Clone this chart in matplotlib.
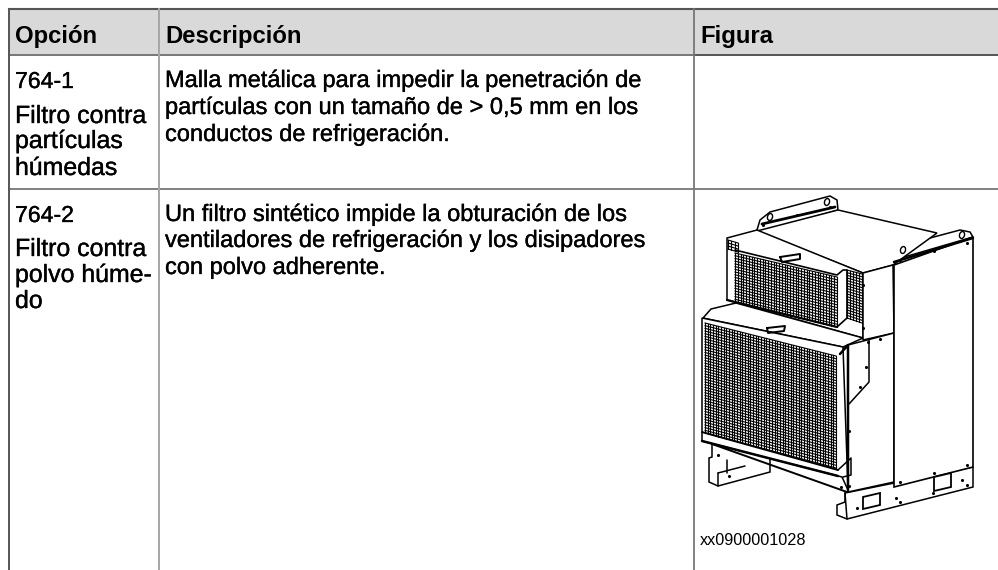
import numpy as np
import matplotlib
matplotlib.use("Agg")
import matplotlib.pyplot as plt
import matplotlib.patheffects as pe
from matplotlib.patches import Polygon, Rectangle, Ellipse

plt.rcParams['font.family'] = ['Liberation Sans', 'DejaVu Sans']

# Table text
headers = ["Opción", "Descripción", "Figura"]
option_1 = ["764-1", "Filtro contra", "partículas", "húmedas"]
option_2 = ["764-2", "Filtro contra", "polvo húme-", "do"]
desc_1 = ["Malla metálica para impedir la penetración de",
          "partículas con un tamaño de > 0,5 mm en los",
          "conductos de refrigeración."]
desc_2 = ["Un filtro sintético impide la obturación de los",
          "ventiladores de refrigeración y los disipadores",
          "con polvo adherente."]
figure_code = "xx0900001028"

# Rivets on the cabinet, in picture pixels
rivet_x = [718, 729, 860, 841, 849, 900, 934, 967, 857, 896, 900, 933, 962, 967, 849,
           900, 934, 967, 763, 797, 830, 866, 880, 868, 863, 863]
rivet_y = [455, 476, 387, 487, 486, 482, 473, 465, 508, 498, 502, 493, 480, 485, 431,
           260, 251, 243, 225, 215, 207, 367, 339, 342, 285, 328]

W, H = 998, 570
DARK = "#555555"
MID = "#777777"
LIGHT = "#a6a6a6"

fig = plt.figure(figsize=(W / 100, H / 100), dpi=100)
ax = fig.add_axes([0, 0, 1, 1])
ax.set_xlim(0, W)
ax.set_ylim(H, 0)
ax.axis("off")

# Table grid, open on the right and at the bottom
ax.add_patch(Rectangle((9, 9), W - 9, 45, fc="#d9d9d9", ec="none"))
ax.plot([9, W], [9, 9], color=DARK, lw=1.5)
ax.plot([9, 694], [54.5, 54.5], color=MID, lw=1.4)
ax.plot([694, W], [54.5, 54.5], color=DARK, lw=1.4)
ax.plot([9, W], [188.5, 188.5], color=MID, lw=1.3)
ax.plot([9.5, 9.5], [9, H], color=DARK, lw=1.4)
ax.plot([159, 159], [9, H], color=LIGHT, lw=1.4)
ax.plot([694.5, 694.5], [9, H], color=MID, lw=1.3)


def txt(x, y, s, size=17.0, stroke=0.25, **kw):
    t = ax.text(x, y, s, fontsize=size, va="baseline", ha="left", color="black", **kw)
    if stroke:
        t.set_path_effects([pe.withStroke(linewidth=stroke, foreground="black")])


for x, s in zip([15, 165, 700], headers):
    txt(x, 43, s, size=17.2, stroke=0, fontweight="bold")

for y, s, size in zip([88, 123, 148, 175], option_1, [16.6, 17.9, 17.9, 17.9]):
    txt(15, y, s, size=size)
for y, s, size in zip([222, 256, 282, 308], option_2, [16.6, 17.9, 17.9, 17.9]):
    txt(15, y, s, size=size)
for y, s in zip([87, 114, 141], desc_1):
    txt(165, y, s)
for y, s in zip([221, 247, 274], desc_2):
    txt(165, y, s)
txt(700, 545, figure_code, size=11.7, stroke=0)


# Illustration, in picture pixels
def shape(points, fc="white", lw=1.1, z=3):
    ax.add_patch(Polygon(points, closed=True, fc=fc, ec="black", lw=lw, zorder=z))


def line(points, lw=1.1, z=6):
    p = np.array(points)
    ax.plot(p[:, 0], p[:, 1], color="black", lw=lw, zorder=z, solid_capstyle="round")


def mesh(tl, tr, br, bl, nx, ny, z=5):
    tl, tr, br, bl = map(np.array, (tl, tr, br, bl))
    for t in np.linspace(0, 1, nx):
        a = tl + (tr - tl) * t
        b = bl + (br - bl) * t
        ax.plot([a[0], b[0]], [a[1], b[1]], color="black", lw=0.8, zorder=z)
    for t in np.linspace(0, 1, ny):
        a = tl + (bl - tl) * t
        b = tr + (br - tr) * t
        ax.plot([a[0], b[0]], [a[1], b[1]], color="black", lw=0.8, zorder=z)


# feet
shape([(712, 444), (712, 457), (709, 458), (709, 482), (718, 486), (770, 472), (770, 450)], z=2)
line([(718, 473), (718, 486)], z=2.5)
line([(718, 473), (745, 466)], z=2.5)
line([(727, 460), (727, 473)], z=2.5)
shape([(845, 493), (973, 467), (973, 487), (847, 519), (837, 515), (837, 505), (845, 502)], z=2)
line([(845, 493), (847, 519)], z=2.5)
shape([(863, 497), (880, 493), (880, 505), (863, 509)], lw=1.3, z=6)
shape([(934, 477), (951, 473), (951, 487), (934, 491)], lw=1.3, z=6)

# right panel with its bracket
shape([(894, 255), (900, 246), (960, 230), (970, 232), (973, 237), (894, 260)])
shape([(894, 265), (973, 237), (973, 467), (894, 487)], lw=1.2, z=4)
line([(894, 262), (973, 238)], lw=1.8)

# upper box
shape([(757, 230), (760, 220), (770, 212), (830, 196), (837, 200), (838, 210), (760, 232)])
line([(762, 224), (835, 207)], lw=2.0)
shape([(757, 231), (838, 210), (937, 233), (893, 265), (863, 273)], z=3)
shape([(727, 238), (757, 230), (863, 273), (863, 338), (727, 300)], z=3)
shape([(863, 273), (893, 265), (894, 333), (863, 340)], z=3)
mesh((735, 253), (837, 277), (837, 327), (735, 302), 38, 19)
mesh((847, 270), (862, 274), (862, 323), (847, 318), 6, 19)
line([(735, 250), (837, 275), (843, 270), (847, 270), (847, 318), (837, 327)], lw=1.2)
line([(837, 327), (727, 300)], lw=1.6)
line([(780, 257), (800, 254), (800, 259), (782, 262), (780, 257)], lw=1.4)
mesh((728, 240), (738, 243), (738, 252), (728, 249), 4, 4)

# lower box
shape([(703, 318), (711, 309), (736, 303), (863, 338), (843, 347)], z=3)
shape([(848, 345), (894, 333), (894, 482), (848, 492)], z=3)
line([(869, 340), (869, 382), (849, 404)])
line([(712, 444), (847, 492)], lw=1.4, z=3.5)
shape([(702, 318), (843, 347), (848, 490), (842, 477), (702, 441)], z=4)
mesh((705, 323), (836, 356), (836, 468), (705, 433), 50, 42)
line([(702, 432), (838, 470)], lw=1.4)
line([(702, 441), (838, 476)], lw=1.8)
line([(840, 354), (848, 345), (848, 490)], lw=1.8)
line([(838, 470), (851, 458), (851, 475), (843, 477)], lw=1.1)
line([(767, 328), (785, 326), (784, 331), (768, 333), (767, 328)], lw=1.4)

# rivets and lifting holes
ax.scatter(rivet_x, rivet_y, s=5, color="black", linewidths=0, zorder=7)
for cx, cy in [(903, 250), (962, 235), (770, 217), (827, 202)]:
    ax.add_patch(Ellipse((cx, cy), 5, 7, angle=15, fc="white", ec="black", lw=1.0, zorder=7))

fig.savefig("out.png", dpi=100)
